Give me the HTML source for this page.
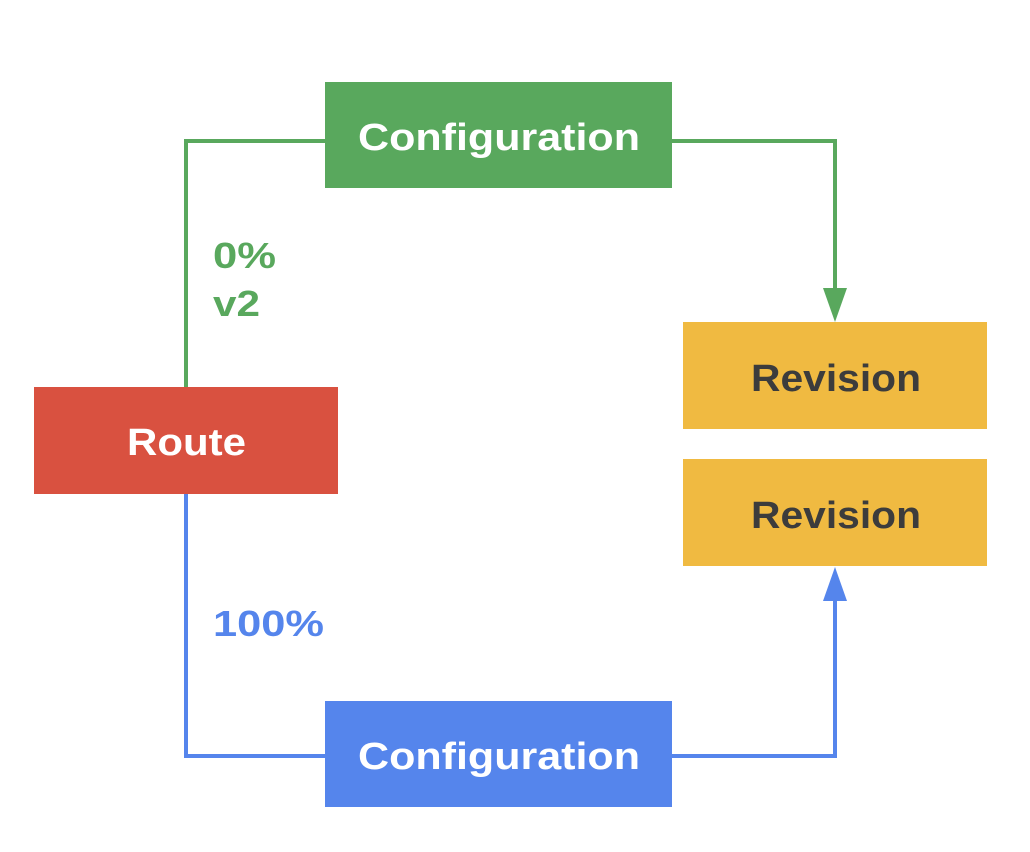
<!DOCTYPE html>
<html><head><meta charset="utf-8"><style>
html,body{margin:0;padding:0;background:#fff;}
svg{display:block}
text{font-family:"Liberation Sans",sans-serif;font-weight:bold;}
</style></head><body>
<svg width="1030" height="852" viewBox="0 0 1030 852" xmlns="http://www.w3.org/2000/svg">
<rect width="1030" height="852" fill="#fff"/>
<polyline points="186,387 186,141 325,141" fill="none" stroke="#59A85D" stroke-width="4"/>
<polyline points="672,141 835,141 835,292" fill="none" stroke="#59A85D" stroke-width="4"/>
<polygon points="823,288 847,288 835,322" fill="#59A85D"/>
<polyline points="186,494 186,756 325,756" fill="none" stroke="#5585EC" stroke-width="4"/>
<polyline points="672,756 835,756 835,596" fill="none" stroke="#5585EC" stroke-width="4"/>
<polygon points="823,601 847,601 835,567" fill="#5585EC"/>
<rect x="325" y="82" width="347" height="106" fill="#59A85D"/>
<text x="358" y="150" font-size="38" fill="#fff" textLength="282" lengthAdjust="spacingAndGlyphs">Configuration</text>
<rect x="34" y="387" width="304" height="107" fill="#D95140"/>
<text x="127" y="455" font-size="38" fill="#fff" textLength="119" lengthAdjust="spacingAndGlyphs">Route</text>
<rect x="683" y="322" width="304" height="107" fill="#F0BA41"/>
<text x="751" y="391" font-size="38" fill="#3C3C3C" textLength="170" lengthAdjust="spacingAndGlyphs">Revision</text>
<rect x="683" y="459" width="304" height="107" fill="#F0BA41"/>
<text x="751" y="528" font-size="38" fill="#3C3C3C" textLength="170" lengthAdjust="spacingAndGlyphs">Revision</text>
<rect x="325" y="701" width="347" height="106" fill="#5585EC"/>
<text x="358" y="769" font-size="38" fill="#fff" textLength="282" lengthAdjust="spacingAndGlyphs">Configuration</text>
<text x="213" y="268" font-size="36" fill="#59A85D" textLength="63" lengthAdjust="spacingAndGlyphs">0%</text>
<text x="213" y="316" font-size="36" fill="#59A85D" textLength="47" lengthAdjust="spacingAndGlyphs">v2</text>
<text x="213" y="636" font-size="36" fill="#5585EC" textLength="111" lengthAdjust="spacingAndGlyphs">100%</text>
</svg>
</body></html>
